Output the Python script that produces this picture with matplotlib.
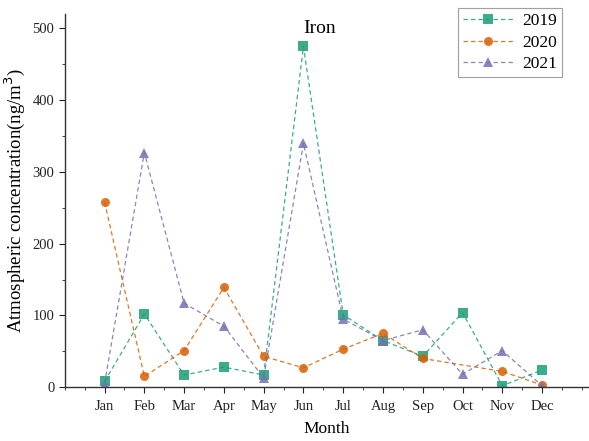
import matplotlib.pyplot as plt
import numpy as np
from matplotlib.ticker import MultipleLocator

plt.rcParams['font.family'] = ['Liberation Serif', 'DejaVu Serif']

months = ['Jan', 'Feb', 'Mar', 'Apr', 'May', 'Jun', 'Jul', 'Aug', 'Sep', 'Oct', 'Nov', 'Dec']
fe_2019 = [8, 102, 17, 28, 17, 475, 101, 65, 43, 104, 2, 24]
fe_2020 = [258, 15, 51, 139, 43, 27, 53, 75, 40, np.nan, 22, 3]
fe_2021 = [5, 327, 117, 85, 13, 340, 95, 65, 80, 18, 51, 2]

series = [
    ('2019', fe_2019, '#1b9e77', 's'),
    ('2020', fe_2020, '#d95f02', 'o'),
    ('2021', fe_2021, '#7570b3', '^'),
]

fig = plt.figure(figsize=(5.89, 4.41), dpi=100)
ax = fig.add_axes([0.110, 0.122, 0.888, 0.846])

x = np.arange(1, 13)
for label, vals, col, mk in series:
    vals = np.array(vals, dtype=float)
    ok = ~np.isnan(vals)  # skip missing months but keep the line joined
    ax.plot(x[ok], vals[ok], linestyle=(0, (3.5, 2.5)), lw=0.9, color=col, alpha=0.85,
            marker=mk, markersize=6.5, markeredgewidth=0, label=label)

ax.set_xlim(0, 13.15)
ax.set_ylim(0, 520)
ax.set_xticks(x)
ax.set_xticklabels(months)
ax.xaxis.set_minor_locator(MultipleLocator(0.5))
ax.yaxis.set_major_locator(MultipleLocator(100))
ax.yaxis.set_minor_locator(MultipleLocator(50))
ax.tick_params(axis='both', which='major', direction='out', length=4, labelsize=10.5, colors='#222222')
ax.tick_params(axis='both', which='minor', direction='out', length=2.5, colors='#222222')
ax.tick_params(axis='x', which='major', pad=5)

for s in ['top', 'right']:
    ax.spines[s].set_visible(False)
for s in ['left', 'bottom']:
    ax.spines[s].set_color('#333333')
    ax.spines[s].set_linewidth(1.0)

ax.text(0.488, 0.985, 'Iron', transform=ax.transAxes, ha='center', va='top', fontsize=14)
ax.set_xlabel('Month', fontsize=12.5, labelpad=6)
ax.set_ylabel('Atmospheric concentration(ng/m$^3$)', fontsize=13.5, labelpad=4)

leg = ax.legend(loc='upper right', bbox_to_anchor=(0.968, 1.04), fontsize=12.5, fancybox=False,
                edgecolor='#888888', handlelength=2.9, borderpad=0.3, labelspacing=0.3,
                handletextpad=0.5)
leg.get_frame().set_linewidth(0.8)

fig.savefig('out.png', dpi=100)
